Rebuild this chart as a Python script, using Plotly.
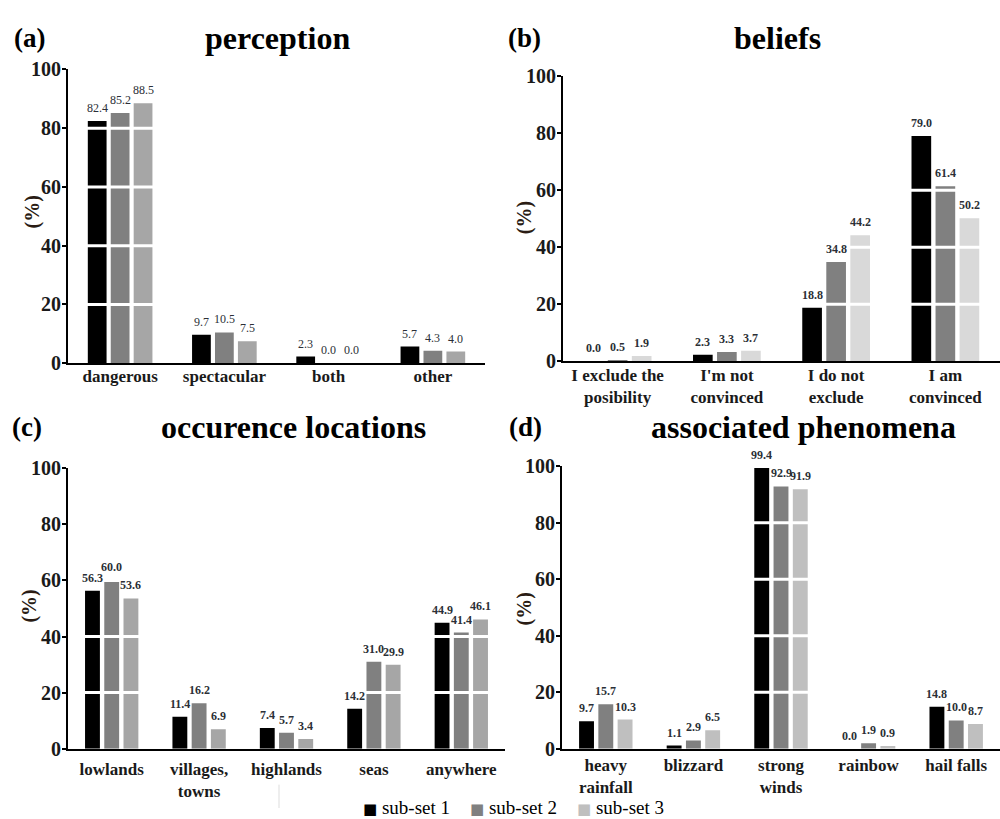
import plotly.graph_objects as go

# ---- data -------------------------------------------------------------
series_names = ["sub-set 1", "sub-set 2", "sub-set 3"]

perception_cats = ["dangerous", "spectacular", "both", "other"]
perception_s1 = [82.4, 9.7, 2.3, 5.7]
perception_s2 = [85.2, 10.5, 0.0, 4.3]
perception_s3 = [88.5, 7.5, 0.0, 4.0]

beliefs_cats = ["I exclude the<br>posibility", "I'm not<br>convinced", "I do not<br>exclude", "I am<br>convinced"]
beliefs_s1 = [0.0, 2.3, 18.8, 79.0]
beliefs_s2 = [0.5, 3.3, 34.8, 61.4]
beliefs_s3 = [1.9, 3.7, 44.2, 50.2]

locations_cats = ["lowlands", "villages,<br>towns", "highlands", "seas", "anywhere"]
locations_s1 = [56.3, 11.4, 7.4, 14.2, 44.9]
locations_s2 = [60.0, 16.2, 5.7, 31.0, 41.4]
locations_s3 = [53.6, 6.9, 3.4, 29.9, 46.1]

phenomena_cats = ["heavy<br>rainfall", "blizzard", "strong<br>winds", "rainbow", "hail falls"]
phenomena_s1 = [9.7, 1.1, 99.4, 0.0, 14.8]
phenomena_s2 = [15.7, 2.9, 92.9, 1.9, 10.0]
phenomena_s3 = [10.3, 6.5, 91.9, 0.9, 8.7]

y_ticks = [0, 20, 40, 60, 80, 100]

# ---- panel styling ----------------------------------------------------
SERIF = "Liberation Serif"
panels = [
    dict(letter="(a)", title="perception", cats=perception_cats,
         vals=[perception_s1, perception_s2, perception_s3],
         colors=["#000000", "#808080", "#a6a6a6"], label_bold=False,
         xdom=[0.068, 0.485], ydom=[1 - 362 / 819, 1 - 60 / 819],
         letter_x=0.012, title_x=0.277, head_y=1 - 28 / 819,
         unit_xy=(0.032, 1 - 207 / 819), width=0.18, tick_shift=-4),
    dict(letter="(b)", title="beliefs", cats=beliefs_cats,
         vals=[beliefs_s1, beliefs_s2, beliefs_s3],
         colors=["#000000", "#808080", "#d9d9d9"], label_bold=True,
         xdom=[0.563, 1.0], ydom=[1 - 360 / 819, 1 - 67 / 819],
         letter_x=0.506, title_x=0.777, head_y=1 - 28 / 819,
         unit_xy=(0.524, 1 - 213 / 819), width=0.18, tick_shift=-3),
    dict(letter="(c)", title="occurence locations", cats=locations_cats,
         vals=[locations_s1, locations_s2, locations_s3],
         colors=["#000000", "#808080", "#a6a6a6"], label_bold=True,
         xdom=[0.068, 0.505], ydom=[1 - 758 / 819, 1 - 470 / 819],
         letter_x=0.010, title_x=0.293, head_y=1 - 427 / 819,
         unit_xy=(0.030, 1 - 612 / 819), width=0.17, tick_shift=4),
    dict(letter="(d)", title="associated phenomena", cats=phenomena_cats,
         vals=[phenomena_s1, phenomena_s2, phenomena_s3],
         colors=["#000000", "#808080", "#bfbfbf"], label_bold=True,
         xdom=[0.562, 1.0], ydom=[1 - 758 / 819, 1 - 468 / 819],
         letter_x=0.507, title_x=0.803, head_y=1 - 427 / 819,
         unit_xy=(0.524, 1 - 615 / 819), width=0.17, tick_shift=0),
]
SLOT = 0.22  # distance between bar centres inside a group (category units)

# key entries along the bottom edge (left edge of each swatch, in paper x)
key_colors = ["#000000", "#808080", "#bfbfbf"]
key_x = [0.361, 0.468, 0.575]

fig = go.Figure()
annotations = []
shapes = []

for p_i, p in enumerate(panels):
    ax = "" if p_i == 0 else str(p_i + 1)
    xa, ya = "x" + ax, "y" + ax
    idx = list(range(len(p["cats"])))
    for s_i, (name, vals, col) in enumerate(zip(series_names, p["vals"], p["colors"])):
        centre = (s_i - 1) * SLOT
        fig.add_trace(go.Bar(
            x=idx, y=vals, name=name, xaxis=xa, yaxis=ya,
            width=p["width"], offset=centre - p["width"] / 2,
            marker=dict(color=col, line=dict(width=0)),
            showlegend=False, hoverinfo="skip",
        ))
        for i, v in zip(idx, vals):
            annotations.append(dict(
                x=i + centre, y=v, xref=xa, yref=ya, text=f"{v:.1f}",
                showarrow=False, yanchor="bottom", yshift=4,
                font=dict(family=SERIF, size=12, color="#2b2f36",
                          weight="bold" if p["label_bold"] else "normal"),
            ))

    # white rules across the bars
    for g in y_ticks[1:-1]:
        shapes.append(dict(type="line", xref=xa + " domain", yref=ya,
                           x0=0.004, x1=1, y0=g, y1=g, layer="above",
                           line=dict(color="white", width=3)))

    fig.update_layout({
        "xaxis" + ax: dict(domain=p["xdom"], range=[-0.5, len(idx) - 0.5],
                           tickvals=idx, ticktext=p["cats"], showline=True,
                           linecolor="black", linewidth=2, ticks="",
                           showgrid=False, zeroline=False, anchor=ya,
                           ticklabelstandoff=p["tick_shift"],
                           tickfont=dict(family=SERIF, size=17, color="#1a1a1a", weight="bold")),
        "yaxis" + ax: dict(domain=p["ydom"], range=[0, 100], tickvals=y_ticks,
                           showline=True, linecolor="black", linewidth=2,
                           ticks="outside", ticklen=4, tickwidth=1.5, tickcolor="black",
                           showgrid=False, zeroline=False, anchor=xa,
                           ticklabelstandoff=-3,
                           tickfont=dict(family=SERIF, size=20, color="#1a1a1a", weight="bold")),
    })

    annotations.append(dict(x=p["letter_x"], y=p["head_y"], xref="paper", yref="paper",
                            text=p["letter"], showarrow=False, xanchor="left", yanchor="middle",
                            font=dict(family=SERIF, size=27, color="black", weight="bold")))
    annotations.append(dict(x=p["title_x"], y=p["head_y"], xref="paper", yref="paper",
                            text=p["title"], showarrow=False, xanchor="center", yanchor="middle",
                            font=dict(family=SERIF, size=32, color="black", weight="bold")))
    annotations.append(dict(x=p["unit_xy"][0], y=p["unit_xy"][1], xref="paper", yref="paper",
                            text="(%)", showarrow=False, textangle=-90,
                            xanchor="center", yanchor="middle",
                            font=dict(family=SERIF, size=20, color="#2a1c14", weight="bold")))

# series key
for name, col, kx in zip(series_names, key_colors, key_x):
    annotations.append(dict(
        x=kx, y=0, xref="paper", yref="paper", showarrow=False,
        xanchor="left", yanchor="bottom", yshift=-12,
        text=f'<span style="color:{col};font-family:DejaVu Sans;font-size:15px">■</span> {name}',
        font=dict(family=SERIF, size=19, color="black"),
    ))

# thin divider beside the key
shapes.append(dict(type="line", xref="paper", yref="paper", x0=0.279, x1=0.279,
                   y0=0, y1=1 - 795 / 819, line=dict(color="#dddddd", width=1)))

fig.update_layout(
    width=1000, height=819, margin=dict(l=0, r=0, t=0, b=0),
    paper_bgcolor="white", plot_bgcolor="white",
    barmode="overlay", annotations=annotations, shapes=shapes,
    showlegend=False, font=dict(family=SERIF),
)

fig.write_html("out.html")
